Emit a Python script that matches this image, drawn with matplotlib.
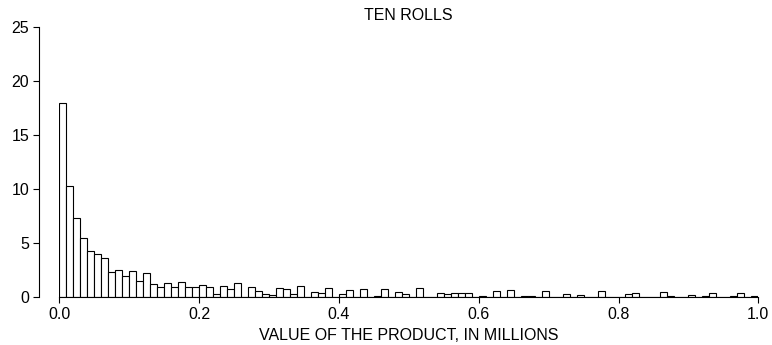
import matplotlib

matplotlib.use("Agg")

import matplotlib.pyplot as plt
import numpy as np

plt.rcParams['font.family'] = ['Liberation Sans', 'DejaVu Sans']

# bin left edges (millions) and bar heights
bin_width = 0.01
bin_edges = np.arange(100) * bin_width
heights = [
    18.0, 10.3, 7.27, 5.41, 4.24, 3.93, 3.56, 2.26, 2.44, 1.92,
    2.35, 1.45, 2.16, 1.14, 0.87, 1.24, 0.93, 1.36, 0.90, 0.93,
    1.10, 0.93, 0.22, 0.96, 0.68, 1.27, 0.0, 0.90, 0.50, 0.28,
    0.15, 0.83, 0.68, 0.28, 0.96, 0.0, 0.46, 0.31, 0.83, 0.0,
    0.22, 0.65, 0.0, 0.74, 0.0, 0.09, 0.68, 0.0, 0.40, 0.22,
    0.0, 0.83, 0.0, 0.0, 0.37, 0.28, 0.31, 0.31, 0.31, 0.0,
    0.09, 0.0, 0.53, 0.0, 0.65, 0.0, 0.09, 0.09, 0.0, 0.56,
    0.0, 0.0, 0.28, 0.0, 0.19, 0.0, 0.0, 0.56, 0.0, 0.0,
    0.0, 0.22, 0.31, 0.0, 0.0, 0.0, 0.40, 0.09, 0.0, 0.0,
    0.12, 0.0, 0.09, 0.35, 0.0, 0.0, 0.09, 0.31, 0.0, 0.09,
]
x_ticks = [0.0, 0.2, 0.4, 0.6, 0.8, 1.0]
x_tick_labels = ["0.0", "0.2", "0.4", "0.6", "0.8", "1.0"]
y_ticks = [0, 5, 10, 15, 20, 25]

fig = plt.figure(figsize=(7.72, 3.45), dpi=100, facecolor='white')
ax = fig.add_axes([59.3 / 772, 48.3 / 345, 699 / 772, 269.4 / 345])

ax.bar(bin_edges, heights, width=bin_width, align='edge',
       facecolor='white', edgecolor='black', linewidth=0.8)

ax.set_xlim(0, 1.0)
ax.set_ylim(0, 25)
ax.set_xticks(x_ticks)
ax.set_xticklabels(x_tick_labels)
ax.set_yticks(y_ticks)

for side in ('top', 'right'):
    ax.spines[side].set_visible(False)
ax.spines['left'].set_position(('outward', 14.3))
for side in ('left', 'bottom'):
    ax.spines[side].set_linewidth(0.8)

ax.tick_params(axis='x', direction='out', length=4, width=0.8, pad=3.5, labelsize=11.5)
ax.tick_params(axis='y', direction='out', length=4.3, width=0.8, pad=3, labelsize=11.5)

ax.set_title("TEN ROLLS", fontsize=11.5, pad=5)
ax.set_xlabel("VALUE OF THE PRODUCT, IN MILLIONS", fontsize=11.5, labelpad=4)

fig.savefig("out.png", dpi=100, facecolor='white')
